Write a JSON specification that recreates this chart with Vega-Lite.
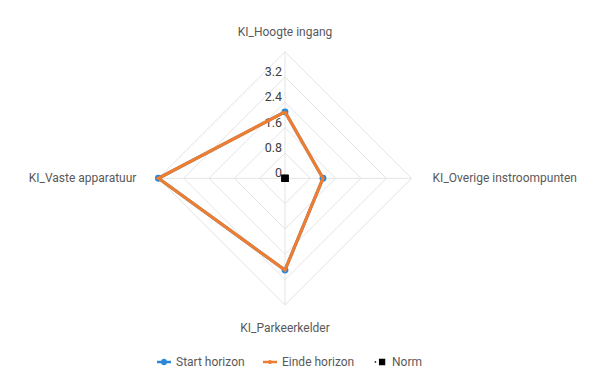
{
  "$schema": "https://vega.github.io/schema/vega-lite/v6.json",
  "width": 605,
  "height": 384,
  "autosize": "none",
  "padding": 0,
  "background": "white",
  "config": {"view": {"stroke": null}, "font": "Roboto"},
  "datasets": {
    "series": [
      {"series": "Start horizon", "kpi": "KI_Hoogte ingang", "order": 0, "x": 0, "y": 2.1},
      {"series": "Start horizon", "kpi": "KI_Overige instroompunten", "order": 1, "x": 1.2, "y": 0},
      {"series": "Start horizon", "kpi": "KI_Parkeerkelder", "order": 2, "x": 0, "y": -2.9},
      {"series": "Start horizon", "kpi": "KI_Vaste apparatuur", "order": 3, "x": -4.0, "y": 0},
      {"series": "Start horizon", "kpi": "KI_Hoogte ingang", "order": 4, "x": 0, "y": 2.1},
      {"series": "Einde horizon", "kpi": "KI_Hoogte ingang", "order": 0, "x": 0, "y": 2.1},
      {"series": "Einde horizon", "kpi": "KI_Overige instroompunten", "order": 1, "x": 1.2, "y": 0},
      {"series": "Einde horizon", "kpi": "KI_Parkeerkelder", "order": 2, "x": 0, "y": -2.9},
      {"series": "Einde horizon", "kpi": "KI_Vaste apparatuur", "order": 3, "x": -4.0, "y": 0},
      {"series": "Einde horizon", "kpi": "KI_Hoogte ingang", "order": 4, "x": 0, "y": 2.1},
      {"series": "Norm", "kpi": "KI_Hoogte ingang", "order": 0, "x": 0, "y": 0},
      {"series": "Norm", "kpi": "KI_Overige instroompunten", "order": 1, "x": 0, "y": 0},
      {"series": "Norm", "kpi": "KI_Parkeerkelder", "order": 2, "x": 0, "y": 0},
      {"series": "Norm", "kpi": "KI_Vaste apparatuur", "order": 3, "x": 0, "y": 0}
    ],
    "rings": [
      {"ring": 0.8, "order": 0, "x": 0, "y": 0.8}, {"ring": 0.8, "order": 1, "x": 0.8, "y": 0}, {"ring": 0.8, "order": 2, "x": 0, "y": -0.8}, {"ring": 0.8, "order": 3, "x": -0.8, "y": 0}, {"ring": 0.8, "order": 4, "x": 0, "y": 0.8},
      {"ring": 1.6, "order": 0, "x": 0, "y": 1.6}, {"ring": 1.6, "order": 1, "x": 1.6, "y": 0}, {"ring": 1.6, "order": 2, "x": 0, "y": -1.6}, {"ring": 1.6, "order": 3, "x": -1.6, "y": 0}, {"ring": 1.6, "order": 4, "x": 0, "y": 1.6},
      {"ring": 2.4, "order": 0, "x": 0, "y": 2.4}, {"ring": 2.4, "order": 1, "x": 2.4, "y": 0}, {"ring": 2.4, "order": 2, "x": 0, "y": -2.4}, {"ring": 2.4, "order": 3, "x": -2.4, "y": 0}, {"ring": 2.4, "order": 4, "x": 0, "y": 2.4},
      {"ring": 3.2, "order": 0, "x": 0, "y": 3.2}, {"ring": 3.2, "order": 1, "x": 3.2, "y": 0}, {"ring": 3.2, "order": 2, "x": 0, "y": -3.2}, {"ring": 3.2, "order": 3, "x": -3.2, "y": 0}, {"ring": 3.2, "order": 4, "x": 0, "y": 3.2},
      {"ring": 4.0, "order": 0, "x": 0, "y": 4.0}, {"ring": 4.0, "order": 1, "x": 4.0, "y": 0}, {"ring": 4.0, "order": 2, "x": 0, "y": -4.0}, {"ring": 4.0, "order": 3, "x": -4.0, "y": 0}, {"ring": 4.0, "order": 4, "x": 0, "y": 4.0}
    ],
    "spokes": [
      {"kpi": "KI_Hoogte ingang", "pos": "top", "x": 0, "y": 0, "x2": 0, "y2": 4.0},
      {"kpi": "KI_Overige instroompunten", "pos": "right", "x": 0, "y": 0, "x2": 4.0, "y2": 0},
      {"kpi": "KI_Parkeerkelder", "pos": "bottom", "x": 0, "y": 0, "x2": 0, "y2": -4.0},
      {"kpi": "KI_Vaste apparatuur", "pos": "left", "x": 0, "y": 0, "x2": -4.0, "y2": 0}
    ],
    "ticks": [
      {"label": "0", "v": 0},
      {"label": "0.8", "v": 0.8},
      {"label": "1.6", "v": 1.6},
      {"label": "2.4", "v": 2.4},
      {"label": "3.2", "v": 3.2}
    ],
    "legendrows": [
      {"series": "Start horizon"},
      {"series": "Einde horizon"},
      {"series": "Norm"}
    ]
  },
  "layer": [
    {
      "data": {"name": "rings"},
      "mark": {"type": "line", "color": "#e4e4e4", "strokeWidth": 1},
      "encoding": {
        "x": {"field": "x", "type": "quantitative", "scale": {"domain": [-9.005, 10.111], "zero": false, "nice": false}, "axis": null},
        "y": {"field": "y", "type": "quantitative", "scale": {"domain": [-6.499, 5.634], "zero": false, "nice": false}, "axis": null},
        "detail": {"field": "ring"},
        "order": {"field": "order"}
      }
    },
    {
      "data": {"name": "spokes"},
      "mark": {"type": "rule", "color": "#e4e4e4", "strokeWidth": 1},
      "encoding": {
        "x": {"field": "x", "type": "quantitative"},
        "y": {"field": "y", "type": "quantitative"},
        "x2": {"field": "x2"},
        "y2": {"field": "y2"}
      }
    },
    {
      "data": {"name": "ticks"},
      "mark": {"type": "text", "align": "right", "baseline": "alphabetic", "dx": -3, "dy": -1, "fontSize": 12.5, "color": "#404040", "font": "Roboto"},
      "encoding": {
        "x": {"datum": 0, "type": "quantitative"},
        "y": {"field": "v", "type": "quantitative"},
        "text": {"field": "label"}
      }
    },
    {
      "data": {"name": "spokes"},
      "transform": [{"filter": "datum.pos === 'top'"}],
      "mark": {"type": "text", "align": "center", "baseline": "alphabetic", "dy": -16, "fontSize": 12, "color": "#595959", "font": "Roboto"},
      "encoding": {
        "x": {"field": "x2", "type": "quantitative"},
        "y": {"field": "y2", "type": "quantitative"},
        "text": {"field": "kpi"}
      }
    },
    {
      "data": {"name": "spokes"},
      "transform": [{"filter": "datum.pos === 'bottom'"}],
      "mark": {"type": "text", "align": "center", "baseline": "alphabetic", "dy": 27, "fontSize": 12, "color": "#595959", "font": "Roboto"},
      "encoding": {
        "x": {"field": "x2", "type": "quantitative"},
        "y": {"field": "y2", "type": "quantitative"},
        "text": {"field": "kpi"}
      }
    },
    {
      "data": {"name": "spokes"},
      "transform": [{"filter": "datum.pos === 'left'"}],
      "mark": {"type": "text", "align": "right", "baseline": "middle", "dx": -22, "fontSize": 12, "color": "#595959", "font": "Roboto"},
      "encoding": {
        "x": {"field": "x2", "type": "quantitative"},
        "y": {"field": "y2", "type": "quantitative"},
        "text": {"field": "kpi"}
      }
    },
    {
      "data": {"name": "spokes"},
      "transform": [{"filter": "datum.pos === 'right'"}],
      "mark": {"type": "text", "align": "left", "baseline": "middle", "dx": 21, "fontSize": 12, "color": "#595959", "font": "Roboto"},
      "encoding": {
        "x": {"field": "x2", "type": "quantitative"},
        "y": {"field": "y2", "type": "quantitative"},
        "text": {"field": "kpi"}
      }
    },
    {
      "data": {"name": "series"},
      "transform": [{"filter": "datum.series === 'Start horizon'"}],
      "mark": {"type": "line", "color": "#2B88D8", "strokeWidth": 3},
      "encoding": {
        "x": {"field": "x", "type": "quantitative"},
        "y": {"field": "y", "type": "quantitative"},
        "order": {"field": "order"}
      }
    },
    {
      "data": {"name": "series"},
      "transform": [{"filter": "datum.series === 'Start horizon' && datum.order < 4"}],
      "mark": {"type": "point", "shape": "circle", "filled": true, "color": "#2B88D8", "size": 48, "opacity": 1},
      "encoding": {
        "x": {"field": "x", "type": "quantitative"},
        "y": {"field": "y", "type": "quantitative"}
      }
    },
    {
      "data": {"name": "series"},
      "transform": [{"filter": "datum.series === 'Einde horizon'"}],
      "mark": {"type": "line", "color": "#ED7D31", "strokeWidth": 3.2},
      "encoding": {
        "x": {"field": "x", "type": "quantitative"},
        "y": {"field": "y", "type": "quantitative"},
        "order": {"field": "order"}
      }
    },
    {
      "data": {"name": "series"},
      "transform": [{"filter": "datum.series === 'Norm'"}],
      "mark": {"type": "point", "shape": "square", "filled": true, "color": "#000000", "size": 49, "opacity": 1},
      "encoding": {
        "x": {"field": "x", "type": "quantitative"},
        "y": {"field": "y", "type": "quantitative"}
      }
    },
    {
      "data": {"name": "legendrows"},
      "mark": {"type": "point", "filled": true, "opacity": 0, "size": 196},
      "encoding": {
        "x": {"datum": 0, "type": "quantitative"},
        "y": {"datum": 0, "type": "quantitative"},
        "color": {
          "field": "series", "type": "nominal",
          "scale": {"domain": ["Start horizon", "Einde horizon", "Norm"], "range": ["#2B88D8", "#ED7D31", "#000000"]},
          "legend": {
            "orient": "none", "legendX": 157, "legendY": 355, "direction": "horizontal", "title": null,
            "labelFont": "Roboto", "labelFontSize": 12, "labelColor": "#595959", "labelOffset": 5,
            "symbolSize": 196, "symbolOpacity": 1, "symbolStrokeWidth": 0, "columnPadding": 18, "padding": 0
          }
        },
        "shape": {
          "field": "series", "type": "nominal",
          "scale": {"domain": ["Start horizon", "Einde horizon", "Norm"], "range": [
            "M-1,-0.17H1V0.17H-1Z M-0.45,0A0.45,0.45,0,1,1,0.45,0A0.45,0.45,0,1,1,-0.45,0Z",
            "M-1,-0.17H1V0.17H-1Z M-0.3,0A0.3,0.3,0,1,1,0.3,0A0.3,0.3,0,1,1,-0.3,0Z",
            "M-0.75,-0.1H-0.55V0.1H-0.75Z M-0.15,-0.45H0.75V0.45H-0.15Z"
          ]},
          "legend": {
            "orient": "none", "legendX": 157, "legendY": 355, "direction": "horizontal", "title": null,
            "labelFont": "Roboto", "labelFontSize": 12, "labelColor": "#595959", "labelOffset": 5,
            "symbolSize": 196, "symbolOpacity": 1, "symbolStrokeWidth": 0, "columnPadding": 18, "padding": 0
          }
        }
      }
    }
  ]
}
